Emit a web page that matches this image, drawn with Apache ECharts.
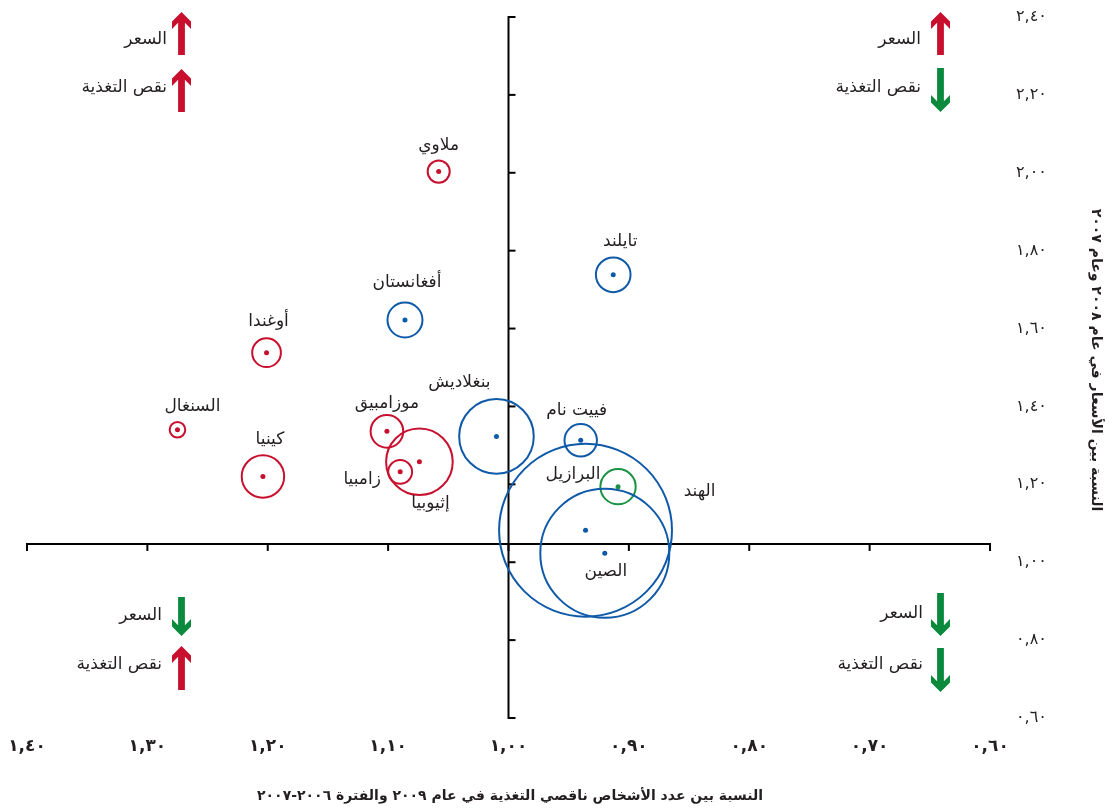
<!DOCTYPE html>
<html><head><meta charset="utf-8">
<script src="https://cdn.jsdelivr.net/npm/echarts@6/dist/echarts.min.js"></script>
<style>html,body{margin:0;padding:0;background:#fff}#chart{width:1110px;height:810px}</style>
</head><body><div id="chart"></div>
<script>
// ---- data ----
const countries = ['ملاوي','تايلند','أفغانستان','أوغندا','السنغال','كينيا','موزامبيق','زامبيا','إثيوبيا','بنغلاديش','فييت نام','البرازيل','الهند','الصين'];
const undernourishedRatio = [1.058,0.913,1.086,1.201,1.275,1.204,1.101,1.090,1.074,1.010,0.940,0.909,0.936,0.920];
const priceRatio = [2.003,1.738,1.622,1.538,1.340,1.220,1.336,1.232,1.258,1.323,1.313,1.194,1.082,1.023];
const undernourishedMillions = [4.5,10.4,10.6,7.3,2.4,15.3,9.3,5.2,36.5,45.5,9.2,10.8,237,133];
const regions = ['africa','asia','asia','africa','africa','africa','africa','africa','africa','asia','asia','latam','asia','asia'];
const xTicks = [0.6,0.7,0.8,0.9,1.0,1.1,1.2,1.3,1.4];
const yTicks = [0.6,0.8,1.0,1.2,1.4,1.6,1.8,2.0,2.2,2.4];
const xCross = 1.00;
const yCross = 1.047;
const xTitle = 'النسبة بين عدد الأشخاص ناقصي التغذية في عام ٢٠٠٩ والفترة ٢٠٠٦-٢٠٠٧';
const yTitle = 'النسبة بين الأسعار في عام ٢٠٠٨ وعام ٢٠٠٧';
const priceLabel = 'السعر';
const hungerLabel = 'نقص التغذية';

// ---- styles / layout ----
const regionColor = {africa:'#C8102E', asia:'#0F5AA8', latam:'#1A9444'};
const RED = '#C8102E', GREEN = '#0B8A3E', TXT = '#231F20';
const FONT = '"DejaVu Sans", "Noto Sans", sans-serif';
const labelOffsets = {
  'ملاوي':[0,-26],'تايلند':[7,-33],'أفغانستان':[2,-37],'أوغندا':[2,-31],'السنغال':[15,-23],
  'كينيا':[7,-37],'موزامبيق':[0,-28],'زامبيا':[-38,8],'إثيوبيا':[11,42],'بنغلاديش':[-37,-54],
  'فييت نام':[-4,-30],'البرازيل':[-45,-12],'الهند':[114,-39],'الصين':[1,18]
};
const K = 5.68;
function toArabicDigits(s){ return s.replace(/[0-9]/g, d => String.fromCharCode(0x0660 + (+d))).replace('.', ','); }
function fmt(v){ return toArabicDigits((Math.round(v*100)/100).toFixed(2)); }

const bubbleData = countries.map((c,i)=>({
  name:c, value:[undernourishedRatio[i], priceRatio[i]],
  symbolSize: 2*K*Math.sqrt(undernourishedMillions[i]) - 2,
  itemStyle:{color:'rgba(0,0,0,0)', borderColor:regionColor[regions[i]], borderWidth:2, opacity:1}
}));
const dotData = countries.map((c,i)=>({
  name:c, value:[undernourishedRatio[i], priceRatio[i]],
  itemStyle:{color:regionColor[regions[i]], opacity:1},
  label:{show:true, position:'inside', offset:labelOffsets[c], formatter:c,
    color:TXT, fontSize:17, fontFamily:FONT, align:'center', verticalAlign:'middle'}
}));

function arrow(cx, top, bottom, up, color){
  const L = bottom - top;
  const base = [[0,0],[9.5,9.5],[9.5,17],[3.4,10.8],[3.4,L],[-3.4,L],[-3.4,10.8],[-9.5,17],[-9.5,9.5]];
  const pts = base.map(p => [cx + p[0], up ? top + p[1] : bottom - p[1]]);
  return {type:'polygon', shape:{points:pts}, style:{fill:color}, silent:true};
}
function txt(x, y, s, align){
  return {type:'text', x:x, y:y, style:{text:s, fill:TXT, font:'17px '+FONT, align:align||'right', verticalAlign:'middle'}, silent:true};
}
const graphics = [
  arrow(181.5, 12, 55, true, RED), txt(167, 40, priceLabel),
  arrow(181.5, 69, 112, true, RED), txt(167, 88, hungerLabel),
  arrow(940.5, 12, 55, true, RED), txt(921, 40, priceLabel),
  arrow(940.5, 68, 112, false, GREEN), txt(921, 88, hungerLabel),
  arrow(181.5, 597, 636, false, GREEN), txt(162, 616, priceLabel),
  arrow(181.5, 646, 690, true, RED), txt(162, 665, hungerLabel),
  arrow(940.5, 593, 636, false, GREEN), txt(923, 614, priceLabel),
  arrow(940.5, 648, 692, false, GREEN), txt(923, 665, hungerLabel),
  {type:'text', x:510, y:796, style:{text:xTitle, fill:TXT, font:'bold 14px '+FONT, align:'center', verticalAlign:'middle'}, silent:true},
  {type:'text', x:1096, y:360, rotation:-Math.PI/2, style:{text:yTitle, fill:TXT, font:'bold 14px '+FONT, align:'center', verticalAlign:'middle'}, silent:true}
];

const chart = echarts.init(document.getElementById('chart'), null, {renderer:'canvas'});
chart.setOption({
  animation:false,
  backgroundColor:'#fff',
  grid:{left:27, right:120, top:17, bottom:92},
  xAxis:{type:'value', inverse:true, min:0.6, max:1.4, interval:0.1,
    axisLine:{show:false}, axisTick:{show:false}, splitLine:{show:false},
    axisLabel:{margin:20, color:TXT, fontSize:17, fontWeight:'bold', fontFamily:FONT, formatter:fmt, showMinLabel:true, showMaxLabel:true}},
  yAxis:{type:'value', position:'right', min:0.6, max:2.4, interval:0.2,
    axisLine:{show:false}, axisTick:{show:false}, splitLine:{show:false},
    axisLabel:{margin:26, color:TXT, fontSize:16, fontFamily:FONT, formatter:fmt, showMinLabel:true, showMaxLabel:true}},
  graphic:graphics,
  series:[
    {type:'custom', silent:true, data:[[xCross, yCross]], clip:false, z:1,
      renderItem:function(params, api){
        const ch = [];
        const s = {stroke:'#000', lineWidth:2};
        const a = api.coord([xTicks[xTicks.length-1], yCross]), b = api.coord([xTicks[0], yCross]);
        ch.push({type:'line', shape:{x1:a[0]-1, y1:a[1], x2:b[0]+1, y2:b[1]}, style:s});
        xTicks.forEach(t => { const p = api.coord([t, yCross]); ch.push({type:'line', shape:{x1:p[0], y1:p[1], x2:p[0], y2:p[1]+7}, style:s}); });
        const c = api.coord([xCross, yTicks[yTicks.length-1]]), d = api.coord([xCross, yTicks[0]]);
        ch.push({type:'line', shape:{x1:c[0], y1:c[1]-1, x2:d[0], y2:d[1]+1}, style:s});
        yTicks.forEach(t => { const p = api.coord([xCross, t]); ch.push({type:'line', shape:{x1:p[0], y1:p[1], x2:p[0]+7, y2:p[1]}, style:s}); });
        return {type:'group', children:ch};
      }},
    {type:'scatter', silent:true, data:bubbleData, z:2, itemStyle:{opacity:1}},
    {type:'scatter', silent:true, data:dotData, symbolSize:5, z:3, itemStyle:{opacity:1}}
  ]
});
</script></body></html>
